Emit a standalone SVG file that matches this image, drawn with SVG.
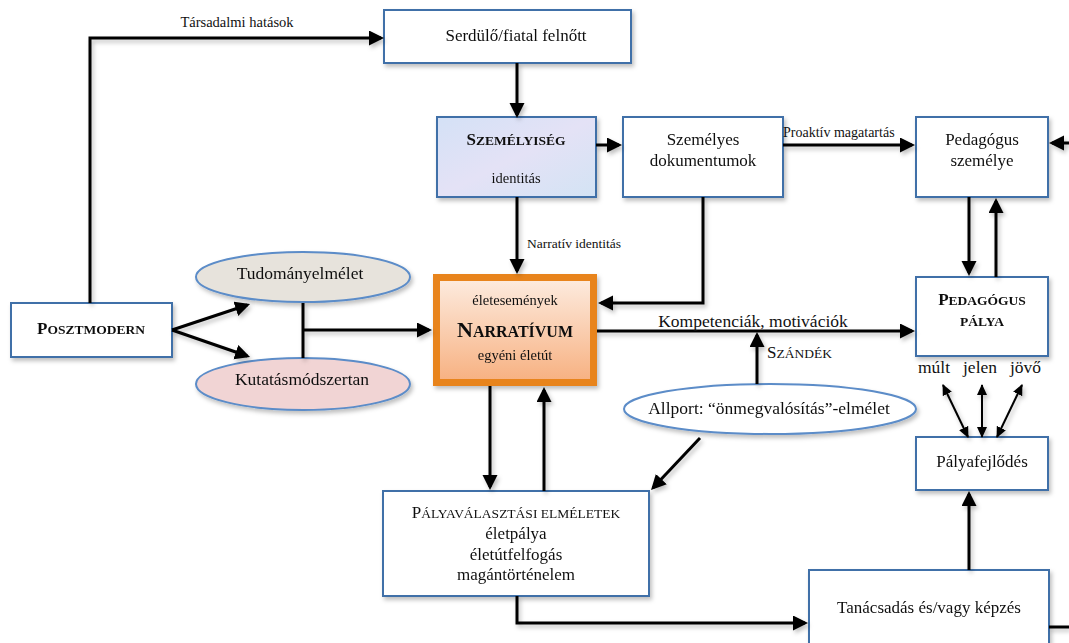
<svg xmlns="http://www.w3.org/2000/svg" width="1069" height="643" viewBox="0 0 1069 643">
<style>
text{font-family:"Liberation Serif","Times New Roman",serif;fill:#111;}
.box{fill:#fff;stroke:#3f6fa8;stroke-width:2;}
.ell{stroke:#5b8cc8;stroke-width:2;}
.c{fill:none;stroke:#000;stroke-width:3;}
.t{fill:none;stroke:#000;stroke-width:2;}
.m{font-size:17px;text-anchor:middle;}
.e{font-size:17.5px;text-anchor:middle;}
.s{font-size:14.5px;}
.b{font-weight:bold;}
</style>
<defs>
<filter id="sh" x="-10%" y="-10%" width="130%" height="140%">
<feDropShadow dx="2" dy="3" stdDeviation="2" flood-color="#000" flood-opacity="0.25"/>
</filter>
<linearGradient id="gBlue" x1="0" y1="0" x2="1" y2="1">
<stop offset="0" stop-color="#d4e1f6"/><stop offset="0.5" stop-color="#e4e2f6"/><stop offset="1" stop-color="#d3e3f4"/>
</linearGradient>
<linearGradient id="gOr" x1="0" y1="0" x2="0" y2="1">
<stop offset="0" stop-color="#fdece0"/><stop offset="1" stop-color="#f7b080"/>
</linearGradient>
<marker id="a" markerUnits="userSpaceOnUse" markerWidth="16" markerHeight="16" refX="12" refY="7.5" orient="auto">
<path d="M0,0 L15,7.5 L0,15 Z" fill="#000"/>
</marker>
<marker id="sa" markerUnits="userSpaceOnUse" markerWidth="12" markerHeight="12" refX="10" refY="5" orient="auto-start-reverse">
<path d="M0,0 L11,5 L0,10 Z" fill="#000"/>
</marker>
</defs>
<rect width="1069" height="643" fill="#fff"/>

<g id="serdulo" filter="url(#sh)">
<rect class="box" x="384" y="10" width="247" height="53"/>
<text class="m" x="516" y="41">Serdülő/fiatal felnőtt</text>
</g>
<g id="szemelyiseg" filter="url(#sh)">
<rect x="437" y="117" width="159" height="80" fill="url(#gBlue)" stroke="#3f6fa8" stroke-width="2"/>
<text class="b" x="516" y="145" text-anchor="middle"><tspan font-size="17">S</tspan><tspan font-size="13.5">ZEMÉLYISÉG</tspan></text>
<text class="s" x="516" y="183" text-anchor="middle">identitás</text>
</g>
<g id="szemelyes-dok" filter="url(#sh)">
<rect class="box" x="623" y="117" width="160" height="80"/>
<text class="m" x="703" y="145">Személyes</text>
<text class="m" x="703" y="166">dokumentumok</text>
</g>
<g id="pedagogus-szemelye" filter="url(#sh)">
<rect class="box" x="916" y="117" width="132" height="80"/>
<text class="m" x="982" y="145">Pedagógus</text>
<text class="m" x="982" y="166">személye</text>
</g>
<g id="posztmodern" filter="url(#sh)">
<rect class="box" x="11" y="303" width="161" height="54"/>
<text class="b" x="91" y="334" text-anchor="middle"><tspan font-size="17">P</tspan><tspan font-size="13.5">OSZTMODERN</tspan></text>
</g>
<g id="tudomanyelmelet" filter="url(#sh)">
<ellipse class="ell" cx="303" cy="277" rx="107" ry="25" fill="#e7e3dc"/>
<text class="e" x="300" y="279">Tudományelmélet</text>
</g>
<g id="kutatasmodszertan" filter="url(#sh)">
<ellipse class="ell" cx="303" cy="384" rx="107" ry="26" fill="#f1d4d4"/>
<text class="e" x="302" y="385">Kutatásmódszertan</text>
</g>
<g id="narrativum" filter="url(#sh)">
<rect x="436.5" y="277.5" width="157" height="105" fill="url(#gOr)" stroke="#e8841c" stroke-width="7"/>
<text class="s" x="515" y="305" text-anchor="middle">életesemények</text>
<text class="b" x="515" y="337" text-anchor="middle"><tspan font-size="22">N</tspan><tspan font-size="16">ARRATÍVUM</tspan></text>
<text class="s" x="515" y="360" text-anchor="middle">egyéni életút</text>
</g>
<g id="pedagogus-palya" filter="url(#sh)">
<rect class="box" x="916" y="277" width="132" height="79"/>
<text class="b" x="982" y="305" text-anchor="middle"><tspan font-size="17">P</tspan><tspan font-size="13.5">EDAGÓGUS</tspan></text>
<text class="b" x="982" y="326" text-anchor="middle" font-size="13.5">PÁLYA</text>
</g>
<g id="idok">
<text x="918" y="373" font-size="17.5">múlt</text>
<text x="963" y="373" font-size="17.5">jelen</text>
<text x="1010" y="373" font-size="17.5">jövő</text>
</g>
<g id="allport" filter="url(#sh)">
<ellipse class="ell" cx="770" cy="409" rx="146" ry="25" fill="#fff"/>
<text class="e" x="769" y="414">Allport: “önmegvalósítás”-elmélet</text>
</g>
<g id="palyafejlodes" filter="url(#sh)">
<rect class="box" x="916" y="437" width="132" height="53"/>
<text class="m" x="982" y="467">Pályafejlődés</text>
</g>
<g id="palyavalasztasi" filter="url(#sh)">
<rect class="box" x="383" y="491" width="266" height="105"/>
<text x="516" y="518" text-anchor="middle"><tspan font-size="17">P</tspan><tspan font-size="13.5">ÁLYAVÁLASZTÁSI ELMÉLETEK</tspan></text>
<text class="m" x="516" y="539">életpálya</text>
<text class="m" x="516" y="560">életútfelfogás</text>
<text class="m" x="516" y="580">magántörténelem</text>
</g>
<g id="tanacsadas" filter="url(#sh)">
<rect class="box" x="809" y="570" width="240" height="90"/>
<text class="m" x="929" y="613">Tanácsadás és/vagy képzés</text>
</g>

<g id="connectors" filter="url(#sh)">
<path class="c" d="M90,303 V38 H381" marker-end="url(#a)"/>
<path class="c" d="M517,63 V115" marker-end="url(#a)"/>
<path class="c" d="M596,145 H619" marker-end="url(#a)"/>
<path class="c" d="M517,197 V271" marker-end="url(#a)"/>
<path class="c" d="M703,197 V303 H601" marker-end="url(#a)"/>
<path class="c" d="M783,145 H912" marker-end="url(#a)"/>
<path class="c" d="M1069,143 H1052" marker-end="url(#a)"/>
<path class="c" d="M969,197 V273" marker-end="url(#a)"/>
<path class="c" d="M996,277 V201" marker-end="url(#a)"/>
<path class="c" d="M597,331 H912" marker-end="url(#a)"/>
<path class="c" d="M757,384 V335" marker-end="url(#a)"/>
<path class="c" d="M172,330 L247.2,305" marker-end="url(#a)"/>
<path class="c" d="M172,330 L247.2,356" marker-end="url(#a)"/>
<path class="c" d="M303,303 V358"/>
<path class="c" d="M303,330 H429" marker-end="url(#a)"/>
<path class="c" d="M490,386 V487" marker-end="url(#a)"/>
<path class="c" d="M544,491 V390" marker-end="url(#a)"/>
<path class="c" d="M700,438 L653.1,487.8" marker-end="url(#a)"/>
<path class="c" d="M517,596 V623 H805" marker-end="url(#a)"/>
<path class="c" d="M969,570 V494" marker-end="url(#a)"/>
<path class="c" d="M1049,627 H1069"/>
<path class="t" d="M943,385 L968,437" marker-start="url(#sa)" marker-end="url(#sa)"/>
<path class="t" d="M982,385 L982,437" marker-start="url(#sa)" marker-end="url(#sa)"/>
<path class="t" d="M1022,385 L997,437" marker-start="url(#sa)" marker-end="url(#sa)"/>
</g>
<g id="labels">
<text x="237" y="27" font-size="14.5" text-anchor="middle">Társadalmi hatások</text>
<text x="527" y="248" font-size="13.5">Narratív identitás</text>
<text x="783" y="137" font-size="14">Proaktív magatartás</text>
<text x="753" y="327" font-size="17.5" text-anchor="middle">Kompetenciák, motivációk</text>
<text x="767" y="358"><tspan font-size="17">S</tspan><tspan font-size="13.5">ZÁNDÉK</tspan></text>
</g>
</svg>
